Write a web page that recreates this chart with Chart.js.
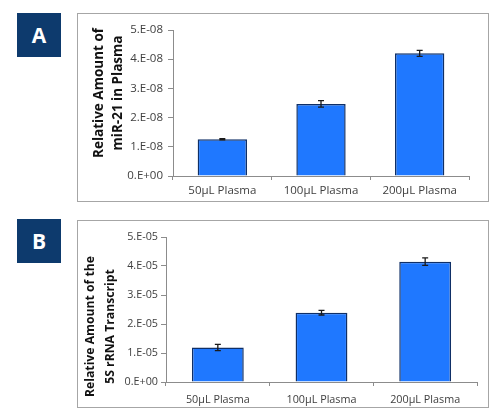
<!doctype html>
<html lang="en">
<head>
  <meta charset="utf-8">
  <title>Relative amount of miR-21 and 5S rRNA in plasma</title>
  <style>
    * { margin: 0; padding: 0; }
    body { width: 496px; height: 417px; background: #fff; position: relative; overflow: hidden; font-family: "Open Sans", sans-serif; }
    .tag {
      position: absolute; left: 17px; width: 44px; height: 44px;
      background: #0d3a6d; color: #fff; font: bold 21px "Open Sans", sans-serif;
      display: flex; align-items: center; justify-content: center;
    }
    .chartBox {
      position: absolute; left: 77px; width: 410px;
      border: 1px solid #a6a6a6; background: #fff;
    }
  </style>
</head>
<body>
  <div class="tag" style="top:13px">A</div>
  <div class="chartBox" style="top:13px;height:187px"><canvas id="chartA"></canvas></div>
  <div class="tag" style="top:219px">B</div>
  <div class="chartBox" style="top:220px;height:186px"><canvas id="chartB"></canvas></div>

  <script src="https://cdn.jsdelivr.net/npm/chart.js"></script>
  <script>
    // data
    const categories = ['50\u03bcL Plasma', '100\u03bcL Plasma', '200\u03bcL Plasma'];

    const mir21 = [1.26e-8, 2.47e-8, 4.20e-8];
    const mir21Err = [0.02e-8, 0.11e-8, 0.10e-8];
    const mir21Ticks = ['0.E+00', '1.E-08', '2.E-08', '3.E-08', '4.E-08', '5.E-08'];

    const rrna5s = [1.19e-5, 2.39e-5, 4.15e-5];
    const rrna5sErr = [0.11e-5, 0.08e-5, 0.13e-5];
    const rrna5sTicks = ['0.E+00', '1.E-05', '2.E-05', '3.E-05', '4.E-05', '5.E-05'];

    // error bars drawn on top of the bars
    const errorBars = {
      id: 'errorBars',
      afterDatasetsDraw(chart, args, options) {
        const { ctx, scales: { y } } = chart;
        const meta = chart.getDatasetMeta(0);
        const vals = chart.data.datasets[0].data;
        ctx.save();
        ctx.strokeStyle = '#1a1a1a';
        ctx.lineWidth = 1.3;
        meta.data.forEach((bar, i) => {
          const hi = y.getPixelForValue(vals[i] + options.err[i]);
          const lo = y.getPixelForValue(vals[i] - options.err[i]);
          ctx.beginPath();
          ctx.moveTo(bar.x, hi);
          ctx.lineTo(bar.x, lo);
          ctx.moveTo(bar.x - 3, hi);
          ctx.lineTo(bar.x + 3, hi);
          ctx.moveTo(bar.x - 3, lo);
          ctx.lineTo(bar.x + 3, lo);
          ctx.stroke();
        });
        ctx.restore();
      }
    };

    // rotated y-axis title, lines centred on each other, shifted off the plot centre
    const axisTitle = {
      id: 'axisTitle',
      afterDraw(chart, args, options) {
        const { ctx, chartArea: { top, bottom } } = chart;
        const cy = (top + bottom) / 2 + options.shift;
        ctx.save();
        ctx.font = `bold ${options.size}px "Open Sans"`;
        ctx.fillStyle = '#111';
        ctx.textAlign = 'center';
        ctx.textBaseline = 'middle';
        options.lines.forEach((line, i) => {
          ctx.save();
          ctx.translate(options.x + i * options.gap, cy);
          ctx.rotate(-Math.PI / 2);
          ctx.fillText(line, 0, 0);
          ctx.restore();
        });
        ctx.restore();
      }
    };

    function makeChart(id, values, err, tickLabels, max, titleLines, o) {
      return new Chart(document.getElementById(id), {
        type: 'bar',
        data: {
          labels: categories,
          datasets: [{
            data: values,
            backgroundColor: '#1f78ff',
            borderColor: '#0f2f66',
            borderWidth: 1.5,
            categoryPercentage: 1,
            barPercentage: 0.5
          }]
        },
        options: {
          responsive: true,
          maintainAspectRatio: false,
          animation: false,
          layout: { padding: { top: 16, right: o.rightPad, left: 0, bottom: 0 } },
          plugins: {
            legend: { display: false },
            tooltip: { enabled: false },
            errorBars: { err: err },
            axisTitle: { lines: titleLines, size: o.titleSize, x: o.titleX, gap: o.titleGap, shift: o.titleShift }
          },
          scales: {
            x: {
              grid: { drawOnChartArea: false, drawTicks: true, tickLength: 4, color: '#8c8c8c' },
              border: { color: '#8c8c8c' },
              ticks: { color: '#404040', font: { family: 'Open Sans', size: o.tickSize }, padding: o.xPad, maxRotation: 0 },
              afterFit(scale) { scale.height = o.xHeight; }
            },
            y: {
              min: 0,
              max: max,
              ticks: {
                stepSize: max / 5,
                color: '#404040',
                font: { family: 'Open Sans', size: o.tickSize },
                padding: o.yPad,
                callback: (v, i) => tickLabels[i]
              },
              grid: { drawOnChartArea: false, drawTicks: true, tickLength: 5, color: '#8c8c8c' },
              border: { color: '#8c8c8c' },
              afterFit(scale) { scale.width = o.yWidth; }
            }
          }
        },
        plugins: [errorBars, axisTitle]
      });
    }

    makeChart('chartA', mir21, mir21Err, mir21Ticks, 5e-8,
      ['Relative Amount of', 'miR-21 in Plasma'],
      { yWidth: 95, rightPad: 19, xHeight: 25, tickSize: 11.5, xPad: 4, yPad: 5,
        titleSize: 13.5, titleX: 21, titleGap: 19, titleShift: -10 });
    makeChart('chartB', rrna5s, rrna5sErr, rrna5sTicks, 5e-5,
      ['Relative Amount of the', '5S rRNA Transcript'],
      { yWidth: 88, rightPad: 11, xHeight: 25, tickSize: 10.8, xPad: 7, yPad: 3,
        titleSize: 12.2, titleX: 13, titleGap: 19.5, titleShift: 17 });
  </script>
</body>
</html>
